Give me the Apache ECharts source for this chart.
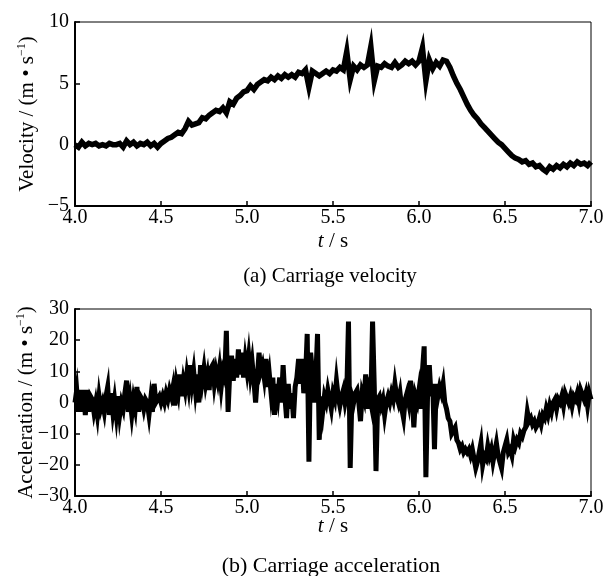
<!DOCTYPE html>
<html>
<head>
<meta charset="utf-8">
<script src="https://cdn.jsdelivr.net/npm/echarts@6/dist/echarts.min.js"></script>
<style>
html,body{margin:0;padding:0;background:#fff;}
#chart{width:614px;height:576px;}
</style>
</head>
<body>
<div id="chart"></div>
<script>
// Time axis settings (s)
const timeStart = 4.0;
const velocityStep = 0.02;
const accelerationStep = 0.01;
const xTickLabels = ['4.0', '4.5', '5.0', '5.5', '6.0', '6.5', '7.0'];
const velocityTicks = [-5, 0, 5, 10];
const accelerationTicks = [-30, -20, -10, 0, 10, 20, 30];

// Carriage velocity (m/s), sampled every 0.02 s from 4.00 s to 7.00 s
const velocity = [
  0.0,-0.2,0.2,-0.1,0.1,0.0,0.1,-0.1,0.0,-0.1,
  0.1,0.0,0.0,0.1,-0.2,0.3,0.0,0.2,-0.1,0.1,
  0.0,0.2,-0.1,0.1,-0.2,0.1,0.3,0.5,0.6,0.8,
  1.0,0.9,1.3,1.9,1.6,1.7,1.8,2.2,2.1,2.4,
  2.6,2.8,2.7,3.0,2.6,3.5,3.3,3.8,4.0,4.3,
  4.4,4.8,4.5,4.9,5.1,5.3,5.2,5.5,5.3,5.6,
  5.4,5.7,5.5,5.7,5.5,5.9,5.8,6.1,4.7,6.0,
  5.8,5.6,5.8,6.0,5.8,6.1,6.0,6.3,6.1,7.6,
  5.3,6.4,6.1,6.5,6.3,6.5,8.0,5.2,6.4,6.3,
  6.6,6.4,6.3,6.7,6.3,6.5,6.8,6.6,6.8,6.5,
  6.8,7.9,5.2,6.9,6.2,6.7,6.4,6.9,6.8,6.3,
  5.6,5.0,4.5,3.9,3.3,2.8,2.4,2.1,1.7,1.4,
  1.1,0.8,0.5,0.2,0.0,-0.3,-0.6,-0.9,-1.1,-1.2,
  -1.4,-1.3,-1.6,-1.5,-1.8,-1.7,-2.0,-2.2,-1.8,-2.0,
  -1.7,-1.9,-1.6,-1.8,-1.5,-1.7,-1.4,-1.6,-1.5,-1.7,
  -1.4
];

// Carriage acceleration (m/s^2), sampled every 0.01 s from 4.00 s to 7.00 s
const acceleration = [
  0,4,-3,4,-3,4,-4,4,-3,2,
  1,-3,0,-4,2,-2,0,-3,2,5,
  -4,3,-3,1,-4,2,-4,0,-2,3,
  7,-3,1,-4,1,-2,5,-3,2,1,
  -2,1,0,-4,1,-3,6,0,1,2,
  0,2,0,3,1,4,2,5,-1,6,
  3,9,2,7,4,9,5,12,6,10,
  4,9,0,12,7,11,6,9,4,11,
  12,6,10,7,11,5,10,8,23,-3,
  10,15,7,14,8,17,9,16,8,14,
  10,15,9,13,7,0,8,16,10,12,
  8,14,5,9,3,8,-4,6,2,8,
  0,12,2,-5,6,-2,3,-5,5,8,
  14,6,14,3,8,22,-19,16,10,0,
  8,22,-12,2,-3,2,0,4,1,-2,
  3,1,7,2,-1,2,4,0,3,26,
  -21,2,0,3,4,0,-6,3,1,9,
  -2,3,0,26,5,-22,1,2,-1,1,
  -4,0,2,0,3,1,6,2,0,3,
  -2,-5,1,3,0,7,2,-8,2,0,
  4,-2,10,18,-24,3,12,2,6,-15,
  6,2,5,3,6,0,-2,-5,-6,-10,
  -9,-8,-12,-13,-15,-14,-16,-15,-16,-15,
  -17,-15,-18,-21,-19,-16,-13,-20,-17,-18,
  -14,-17,-15,-19,-16,-13,-17,-19,-21,-16,
  -14,-12,-16,-15,-17,-12,-14,-12,-13,-10,
  -11,-9,-8,-3,-6,-5,-7,-6,-8,-7,
  -5,-7,-4,-5,-2,-4,-1,-3,0,1,
  -2,1,0,2,-1,3,3,0,2,-1,
  2,1,3,0,4,4,1,3,-1,3,
  1
];

const FONT = '"Liberation Serif", "Times New Roman", serif';
const toPairs = (arr, step) => arr.map((v, i) => [+(timeStart + i * step).toFixed(3), v]);
const minus = v => String(v).replace('-', '\u2212');

function xAxisCfg(gi, gap) {
  return {
    gridIndex: gi, type: 'value', min: 4, max: 7, interval: 0.5,
    axisLine: { onZero: false, lineStyle: { color: '#000', width: 2 } },
    axisTick: { inside: true, length: 5, lineStyle: { color: '#000', width: 1.5 } },
    axisLabel: { color: '#000', fontSize: 20, fontFamily: FONT, margin: 2,
      formatter: v => xTickLabels[Math.round((v - 4) / 0.5)] },
    splitLine: { show: false },
    name: '{i|t} / s', nameLocation: 'middle', nameGap: gap, nameMoveOverlap: false,
    nameTextStyle: { color: '#000', fontSize: 21, fontFamily: FONT,
      rich: { i: { fontStyle: 'italic', fontSize: 21, fontFamily: FONT, color: '#000' } } }
  };
}
function yAxisCfg(gi, ticks, label, gap) {
  return {
    gridIndex: gi, type: 'value', min: ticks[0], max: ticks[ticks.length - 1],
    interval: ticks[1] - ticks[0],
    axisLine: { onZero: false, lineStyle: { color: '#000', width: 2 } },
    axisTick: { inside: true, length: 5, lineStyle: { color: '#000', width: 1.5 } },
    axisLabel: { color: '#000', fontSize: 20, fontFamily: FONT, margin: 6, formatter: minus },
    splitLine: { show: false },
    name: label + ' / (m \u2022 s{sup|\u22121})', nameLocation: 'middle', nameGap: gap,
    nameMoveOverlap: false,
    nameTextStyle: { color: '#000', fontSize: 21, fontFamily: FONT,
      rich: { sup: { fontSize: 12, fontFamily: FONT, color: '#000', padding: [0, 0, 11, 0] } } }
  };
}

const chart = echarts.init(document.getElementById('chart'), null, { renderer: 'canvas' });
chart.setOption({
  animation: false,
  backgroundColor: '#fff',
  grid: [
    { left: 75, right: 23, top: 22, height: 184, show: true, borderColor: '#000', borderWidth: 1,
      containLabel: false, outerBoundsMode: 'none' },
    { left: 75, right: 23, top: 309, height: 187, show: true, borderColor: '#000', borderWidth: 1,
      containLabel: false, outerBoundsMode: 'none' }
  ],
  xAxis: [xAxisCfg(0, 25), xAxisCfg(1, 20)],
  yAxis: [yAxisCfg(0, velocityTicks, 'Velocity', 36), yAxisCfg(1, accelerationTicks, 'Acceleration', 37)],
  series: [
    { type: 'line', xAxisIndex: 0, yAxisIndex: 0, showSymbol: false, clip: false,
      lineStyle: { color: '#000', width: 5.5, join: 'miter' }, data: toPairs(velocity, velocityStep) },
    { type: 'line', xAxisIndex: 1, yAxisIndex: 1, showSymbol: false, clip: false,
      lineStyle: { color: '#000', width: 5, join: 'miter' }, data: toPairs(acceleration, accelerationStep) }
  ],
  graphic: [
    { type: 'text', x: 330, y: 276, style: { text: '(a) Carriage velocity', fill: '#000',
      font: '21px ' + FONT, textAlign: 'center', textVerticalAlign: 'middle' } },
    { type: 'text', x: 331, y: 566, style: { text: '(b) Carriage acceleration', fill: '#000',
      font: '22px ' + FONT, textAlign: 'center', textVerticalAlign: 'middle' } }
  ]
});
</script>
</body>
</html>
